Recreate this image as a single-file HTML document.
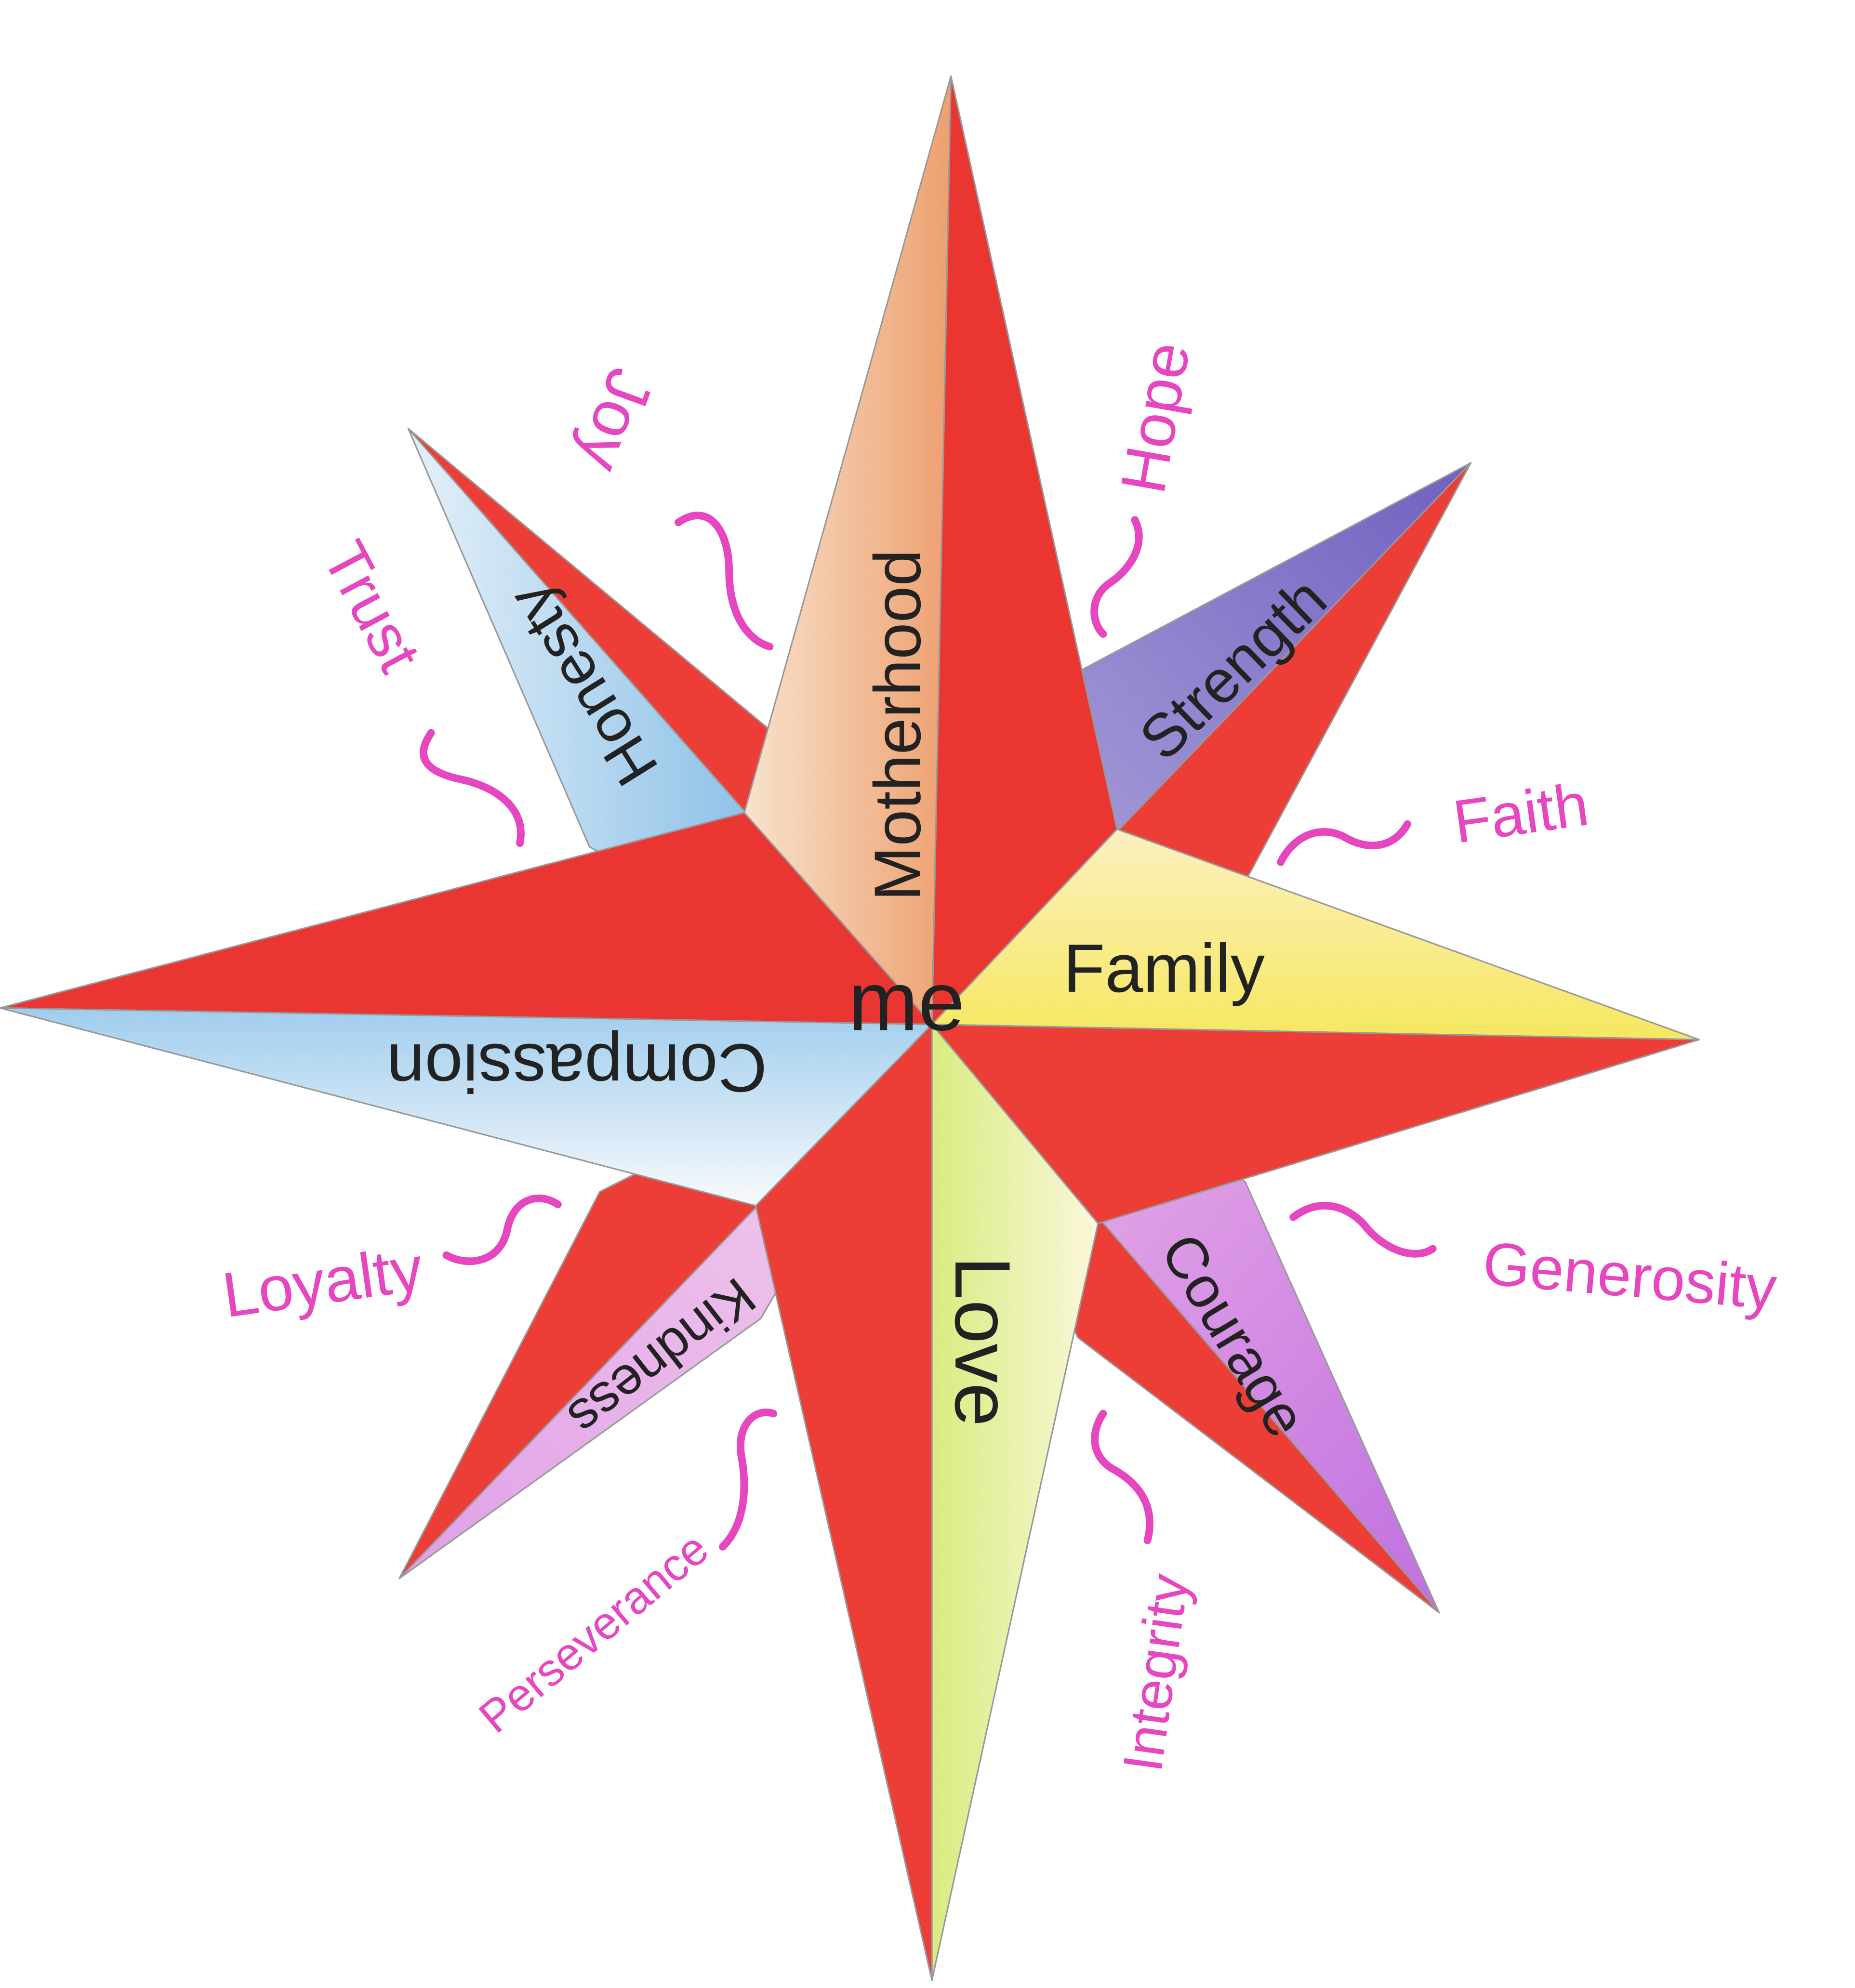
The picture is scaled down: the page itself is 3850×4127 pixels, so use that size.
<!DOCTYPE html>
<html><head><meta charset="utf-8"><style>html,body{margin:0;padding:0;background:#fff}svg{display:block}</style></head><body>
<svg width="3850" height="4127" viewBox="0 0 1463 1568" xmlns="http://www.w3.org/2000/svg">
<defs>
<linearGradient id="org" x1="0" y1="0" x2="1" y2="0"><stop offset="0" stop-color="#f8e2cc"/><stop offset="1" stop-color="#eea070"/></linearGradient>
<linearGradient id="yel" x1="0" y1="0" x2="0" y2="1"><stop offset="0" stop-color="#fbf0c0"/><stop offset="1" stop-color="#f6e860"/></linearGradient>
<linearGradient id="grn" x1="1" y1="0" x2="0" y2="0"><stop offset="0" stop-color="#fbf7dc"/><stop offset="1" stop-color="#d8ec80"/></linearGradient>
<linearGradient id="blu" x1="0" y1="1" x2="0" y2="0"><stop offset="0" stop-color="#f8fafc"/><stop offset="1" stop-color="#a0cdee"/></linearGradient>
<linearGradient id="blu2" x1="0" y1="0" x2="1" y2="0"><stop offset="0" stop-color="#e4f0f8"/><stop offset="1" stop-color="#60a8e0"/></linearGradient>
<linearGradient id="pur" x1="0" y1="1" x2="1" y2="0"><stop offset="0" stop-color="#b8b0e0"/><stop offset="1" stop-color="#7060c0"/></linearGradient>
<linearGradient id="pur2" x1="0" y1="0" x2="1" y2="1"><stop offset="0" stop-color="#f0b8e8"/><stop offset="1" stop-color="#c070e0"/></linearGradient>
<linearGradient id="pnk" x1="1" y1="0" x2="0" y2="1"><stop offset="0" stop-color="#f4d0ec"/><stop offset="1" stop-color="#e0a0e8"/></linearGradient>
</defs>
<g stroke="#999" stroke-width="1.2" stroke-linejoin="round">
<polygon points="322,338 465,668 735,808" fill="url(#blu2)"/>
<polygon points="322,338 610,578 735,808" fill="#ec3d36"/>
<polygon points="1160,365 850,530 735,808" fill="url(#pur)"/>
<polygon points="1160,365 985,690 735,808" fill="#ec3d36"/>
<polygon points="1135,1272 982,932 735,808" fill="url(#pur2)"/>
<polygon points="1135,1272 850,1055 735,808" fill="#ec3d36"/>
<polygon points="315,1245 473,940 735,808" fill="#ec3d36"/>
<polygon points="315,1245 600,1040 735,808" fill="url(#pnk)"/>
<polygon points="750,60 587,641 735,808" fill="url(#org)"/>
<polygon points="750,60 881,654 735,808" fill="#ea3530"/>
<polygon points="1340,820 881,654 735,808" fill="url(#yel)"/>
<polygon points="1340,820 866,965 735,808" fill="#ec3d36"/>
<polygon points="735,1562 596,951 735,808" fill="#ec3d36"/>
<polygon points="735,1562 866,965 735,808" fill="url(#grn)"/>
<polygon points="0,795 587,641 735,808" fill="#ea3632"/>
<polygon points="0,795 596,951 735,808" fill="url(#blu)"/>
</g>
<g font-family="Liberation Sans, sans-serif" fill="#222" text-anchor="middle" dominant-baseline="middle">
<text x="0" y="0" font-size="52" transform="translate(712,572) rotate(-90)">Motherhood</text>
<text x="0" y="0" font-size="54" transform="translate(918,768)">Family</text>
<text x="0" y="0" font-size="62" transform="translate(770,1058) rotate(90)">Love</text>
<text x="0" y="0" font-size="54" transform="translate(455,838) rotate(180)">Compassion</text>
<text x="0" y="0" font-size="48" transform="translate(463,538) rotate(238)">Honesty</text>
<text x="0" y="0" font-size="48" transform="translate(975,530) rotate(-44)">Strength</text>
<text x="0" y="0" font-size="46" transform="translate(970,1055) rotate(59)">Courage</text>
<text x="0" y="0" font-size="42" transform="translate(520,1068) rotate(142)">Kindness</text>
<text x="0" y="0" font-size="66" transform="translate(715,795)">me</text>
</g>
<g font-family="Liberation Sans, sans-serif" fill="#e646bf" text-anchor="middle" dominant-baseline="middle">
<text font-size="52" transform="translate(482,330) rotate(110)">Joy</text>
<text font-size="50" transform="translate(915,330) rotate(-80)">Hope</text>
<text font-size="48" transform="translate(290,480) rotate(62)">Trust</text>
<text font-size="48" transform="translate(1200,645) rotate(-8)">Faith</text>
<text font-size="50" transform="translate(255,1015) rotate(-8)">Loyalty</text>
<text font-size="48" transform="translate(1285,1010) rotate(5)">Generosity</text>
<text font-size="36" transform="translate(470,1290) rotate(-40)">Perseverance</text>
<text font-size="44" transform="translate(915,1320) rotate(-82)">Integrity</text>
</g>
<g fill="none" stroke="#e646bf" stroke-width="6" stroke-linecap="round">
<path d="M535,412 C560,395 575,420 575,450 C575,485 590,505 607,510"/>
<path d="M895,410 C905,430 890,450 875,460 C860,470 860,490 870,500"/>
<path d="M340,578 C325,600 340,610 365,615 C395,622 415,640 410,665"/>
<path d="M1010,680 C1020,660 1040,650 1060,660 C1080,672 1100,668 1110,650"/>
<path d="M352,990 C370,1000 395,995 400,970 C405,945 425,940 440,950"/>
<path d="M1020,960 C1040,945 1060,950 1075,965 C1090,985 1115,995 1130,985"/>
<path d="M610,1115 C595,1110 580,1125 585,1150 C590,1180 585,1205 570,1220"/>
<path d="M870,1115 C860,1130 860,1150 880,1160 C905,1175 910,1195 905,1215"/>
</g>
</svg>
</body></html>
